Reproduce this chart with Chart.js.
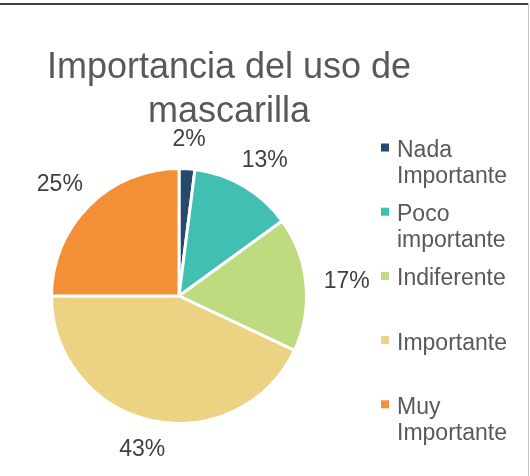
<!DOCTYPE html>
<html>
<head>
<meta charset="utf-8">
<script src="https://cdn.jsdelivr.net/npm/chart.js@4"></script>
<style>
    body { margin: 0; background: #fff; }
    #wrap { position: relative; width: 530px; height: 476px; }
    #frameTop { position: absolute; left: 0; top: 3px; width: 529px; height: 2px; background: #3f3f3f; }
    #frameRight { position: absolute; left: 528px; top: 3px; width: 1px; height: 473px; background: #c0c0c0; }
</style>
</head>
<body>
<div id="wrap">
    <canvas id="pieChart" width="530" height="476"></canvas>
    <div id="frameTop"></div>
    <div id="frameRight"></div>
</div>
<script>
// ==========================================
// Data
// ==========================================
const titleLines = ['Importancia del uso de', 'mascarilla'];
const categories = [['Nada', 'Importante'], ['Poco', 'importante'], ['Indiferente'], ['Importante'], ['Muy', 'Importante']];
const values = [2, 13, 17, 43, 25];
const colors = ['#264a6e', '#40bfb2', '#bedb80', '#ecd283', '#f38f37'];

const FONT = "'Liberation Sans', Arial, sans-serif";

// ==========================================
// Title, legend and outside % labels
// ==========================================
const textPlugin = {
    id: 'textPlugin',
    afterDraw(chart) {
        const ctx = chart.ctx;
        const meta = chart.getDatasetMeta(0);
        const total = values.reduce((a, b) => a + b, 0);
        ctx.save();

        // percentage labels outside each slice
        ctx.font = '23px ' + FONT;
        ctx.fillStyle = '#404040';
        ctx.textAlign = 'center';
        ctx.textBaseline = 'middle';
        meta.data.forEach((arc, i) => {
            const p = arc.getProps(['x', 'y', 'startAngle', 'endAngle', 'outerRadius'], true);
            const mid = (p.startAngle + p.endAngle) / 2;
            const ux = Math.cos(mid), uy = Math.sin(mid);
            const text = Math.round(values[i] / total * 100) + '%';
            const w = ctx.measureText(text).width, h = 23;
            const px = p.x + ux * (p.outerRadius + 18);
            const py = p.y + uy * (p.outerRadius + 18);
            ctx.fillText(text, px + ux * w / 2, py + uy * h / 2);
        });

        // title
        ctx.font = '36px ' + FONT;
        ctx.fillStyle = '#595959';
        ctx.textBaseline = 'alphabetic';
        titleLines.forEach((line, i) => ctx.fillText(line, 229, 78 + i * 44));

        // legend
        ctx.font = '23px ' + FONT;
        ctx.textAlign = 'left';
        categories.forEach((lines, i) => {
            const cy = 147.5 + i * 64.2;
            ctx.fillStyle = colors[i];
            ctx.fillRect(381, cy - 4, 8, 8);
            ctx.fillStyle = '#595959';
            lines.forEach((t, j) => ctx.fillText(t, 397, cy + 9.5 + j * 26));
        });

        ctx.restore();
    }
};

// ==========================================
// Pie chart
// ==========================================
new Chart(document.getElementById('pieChart'), {
    type: 'pie',
    data: {
        labels: categories.map(c => c.join(' ')),
        datasets: [{
            data: values,
            backgroundColor: colors,
            borderColor: '#ffffff',
            borderWidth: 3
        }]
    },
    options: {
        responsive: false,
        animation: false,
        layout: { padding: { left: 50, right: 222, top: 167, bottom: 51 } },
        plugins: {
            legend: { display: false },
            title: { display: false },
            tooltip: { enabled: false }
        }
    },
    plugins: [textPlugin]
});
</script>
</body>
</html>
